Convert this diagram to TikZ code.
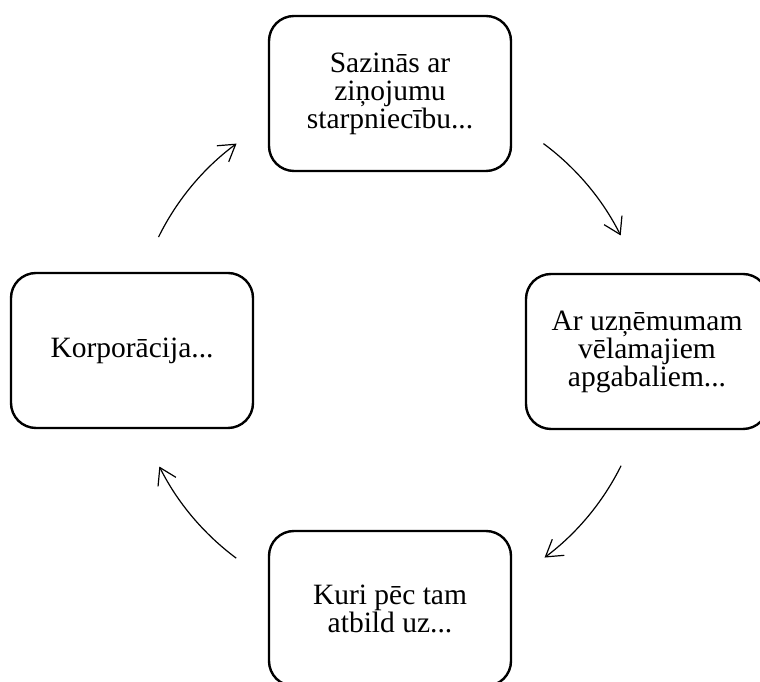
\documentclass[tikz,border=0pt]{standalone}
\usepackage{fontspec}
\setmainfont{Liberation Serif}
\usetikzlibrary{arrows.meta,calc}
\tikzset{
  cyclebox/.style={draw=black, line width=2.4pt, rounded corners=25pt,
    minimum width=242pt, minimum height=155pt, align=center, inner sep=0pt,
    font=\fontsize{29.5}{28}\selectfont},
  cyclearrow/.style={line width=1.2pt, -{Straight Barb[length=16pt,width=20pt,line width=1.2pt]}}
}
\begin{document}
\begin{tikzpicture}[x=1pt,y=1pt]
\useasboundingbox (0,0) rectangle (760,682);
\clip (0,0) rectangle (760,682);
\coordinate (c) at (390,331);
\node[cyclebox] (top) at (390,588.5) {Sazinās ar\\ziņojumu\\starpniecību...};
\node[cyclebox] (right) at (647,330.5) {Ar uzņēmumam\\vēlamajiem\\apgabaliem...};
\node[cyclebox] (bottom) at (390,73.5) {Kuri pēc tam\\atbild uz...};
\node[cyclebox] (left) at (132,331.5) {Korporācija...};
\coordinate (a1s) at ($(c)+(153.8:258)$);
\coordinate (a2s) at ($(c)+(53.5:258)$);
\coordinate (a3s) at ($(c)+(-26.4:258)$);
\coordinate (a4s) at ($(c)+(-126.6:258)$);
\draw[cyclearrow] (a1s) arc[start angle=153.8, end angle=126.5, radius=258];
\draw[cyclearrow] (a2s) arc[start angle=53.5, end angle=26.6, radius=258];
\draw[cyclearrow] (a3s) arc[start angle=-26.4, end angle=-53.2, radius=258];
\draw[cyclearrow] (a4s) arc[start angle=-126.6, end angle=-153.4, radius=258];
\end{tikzpicture}
\end{document}
